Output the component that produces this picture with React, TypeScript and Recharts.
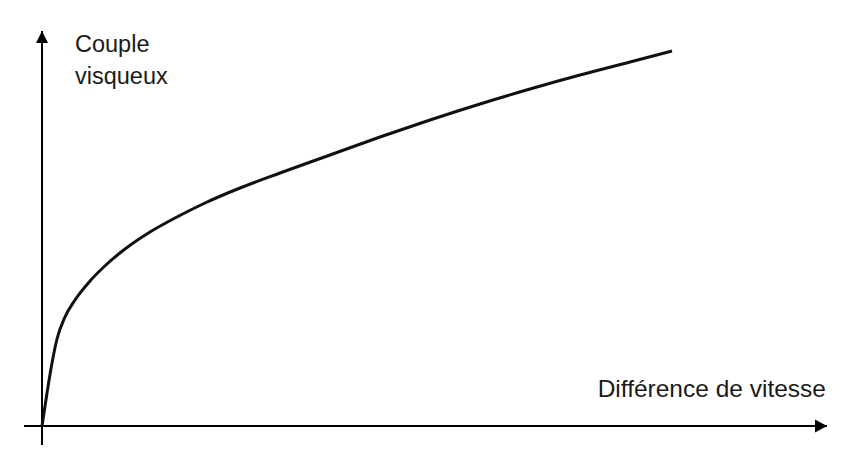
import { LineChart, Line, XAxis, YAxis, ReferenceLine, ReferenceDot, Customized } from 'recharts';

// écart de vitesse (x) et couple visqueux (y), unités arbitraires
const ecart = [0, 0.5, 1.0, 1.5, 2.3, 3.3, 4.8, 6.5, 8.3, 10.8, 13.3, 16.3, 19.8, 23.8, 28.8, 33.8, 38.8, 43.8, 48.8, 53.8, 58.8, 63.0];
const couple = [0, 3.3, 6.3, 8.7, 10.9, 12.6, 14.5, 16.2, 17.7, 19.4, 20.8, 22.3, 23.8, 25.3, 27.1, 28.9, 30.6, 32.2, 33.7, 35.1, 36.4, 37.5];

const xDomain = [-1.8, 78.5];
const yDomain = [-1.9, 39.5];

const data = ecart.map((x, i) => ({ x, y: couple[i] }));

const FONT = '"Liberation Sans", Arial, sans-serif';

const ArrowRight = (props: any) => {
  const { cx, cy } = props;
  return <path d={`M${cx},${cy} L${cx - 12},${cy - 6.5} L${cx - 12},${cy + 6.5} Z`} fill="#000" />;
};

const ArrowUp = (props: any) => {
  const { cx, cy } = props;
  return <path d={`M${cx},${cy} L${cx - 6},${cy + 12} L${cx + 6},${cy + 12} Z`} fill="#000" />;
};

const Labels = () => (
  <g fontFamily={FONT} fill="#1a1a1a">
    <text x={75} y={52} fontSize={23.5}>Couple</text>
    <text x={75} y={84} fontSize={23.5}>visqueux</text>
    <text x={826} y={397} fontSize={24.5} textAnchor="end">Différence de vitesse</text>
  </g>
);

export default function App() {
  return (
    <div style={{ position: 'absolute', left: 0, top: 0, width: 851, height: 462, background: '#fff' }}>
      <LineChart width={851} height={462} data={data} margin={{ top: 31, right: 24, left: 24, bottom: 17 }}>
        <XAxis type="number" dataKey="x" domain={xDomain} allowDataOverflow hide />
        <YAxis type="number" domain={yDomain} allowDataOverflow hide />
        <ReferenceLine y={0} stroke="#000" strokeWidth={2} />
        <ReferenceLine x={0} stroke="#000" strokeWidth={2} />
        <ReferenceDot x={xDomain[1]} y={0} ifOverflow="visible" shape={ArrowRight} />
        <ReferenceDot x={0} y={yDomain[1]} ifOverflow="visible" shape={ArrowUp} />
        <Line
          type="monotone"
          dataKey="y"
          stroke="#111"
          strokeWidth={3}
          dot={false}
          activeDot={false}
          isAnimationActive={false}
        />
        <Customized component={Labels} />
      </LineChart>
    </div>
  );
}
